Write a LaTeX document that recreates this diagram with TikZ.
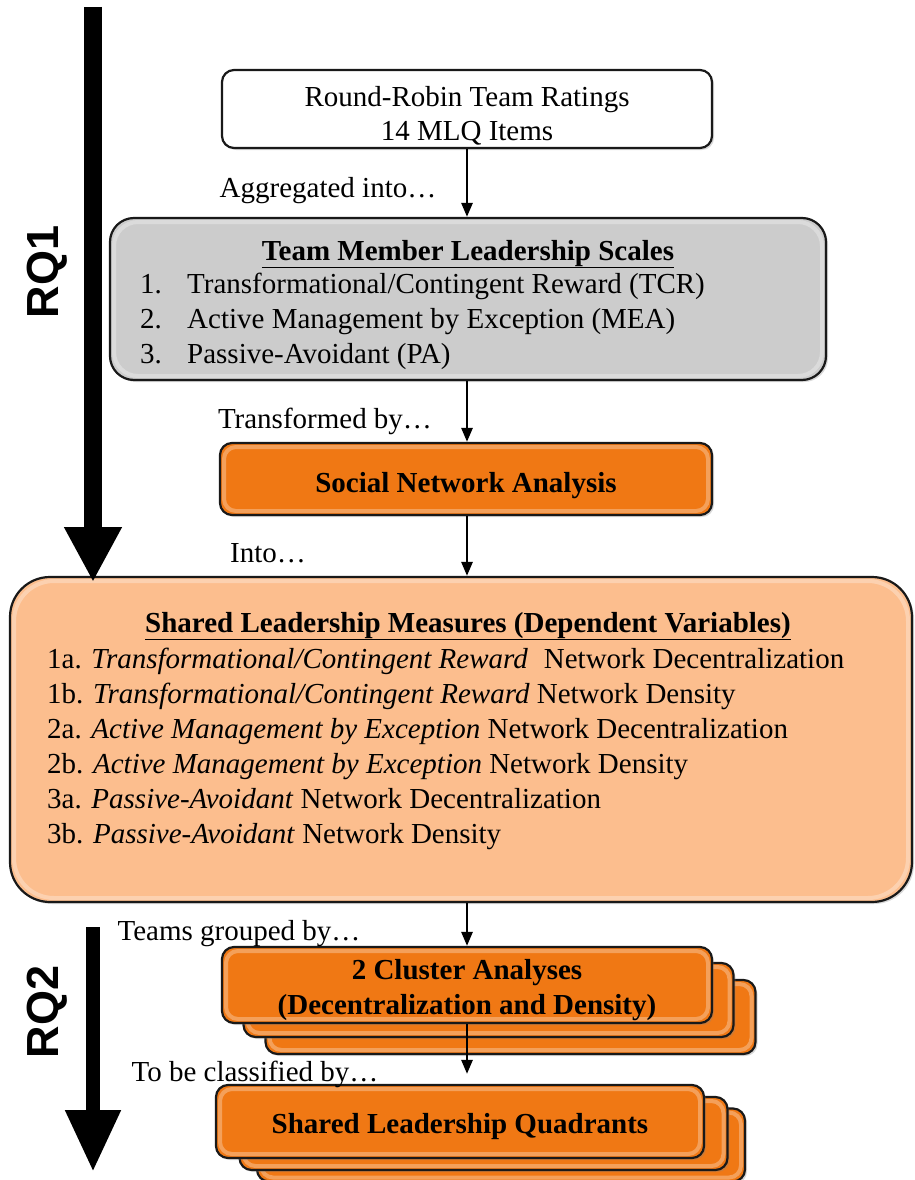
\documentclass[tikz,border=0pt]{standalone}
\usepackage{fontspec}
\setmainfont{Liberation Serif}
\newfontfamily\rqfont{Liberation Sans}
\usetikzlibrary{arrows.meta,shadows}

\definecolor{orangebox}{RGB}{240,120,20}
\definecolor{peachbox}{RGB}{252,190,142}
\definecolor{graybox}{RGB}{204,204,204}
\definecolor{rimdark}{RGB}{25,25,25}

\tikzset{
  panel/.style={draw=rimdark, line width=2.2pt, rounded corners=#1, inner sep=0pt,
    drop shadow={opacity=0.3, shadow xshift=2pt, shadow yshift=-2pt},
    path picture={\draw[white, opacity=0.3, line width=4pt, rounded corners=#1]
      ([shift={(4pt,-4pt)}]path picture bounding box.north west) rectangle
      ([shift={(-4pt,4pt)}]path picture bounding box.south east);}},
  flow/.style={line width=2.6pt, -{Triangle[width=11pt,length=14pt]}},
  rqarrow/.style={line width=#1, -{Triangle[width=54pt,length=55pt]}},
  txt/.style={font=\fontsize{29}{35}\selectfont, inner sep=0pt},
  btxt/.style={font=\fontsize{29}{35}\selectfont\bfseries, inner sep=0pt},
  line/.style={txt, anchor=base west},
  rqtxt/.style={font=\rqfont\bfseries\fontsize{45}{45}\selectfont, inner sep=0pt, rotate=90},
}

\begin{document}
\begin{tikzpicture}[x=1pt, y=-1pt]
\useasboundingbox (0,0) rectangle (914,1180);

% ---- boxes ----
\node[panel=12pt, fill=white, minimum width=490pt, minimum height=78pt] (ratings) at (467,109) {};
\node[panel=24pt, fill=graybox, minimum width=716pt, minimum height=162pt] (scales) at (468,299) {};
\node[panel=12pt, fill=orangebox, minimum width=492pt, minimum height=72pt] (sna) at (466,479) {};
\node[panel=40pt, fill=peachbox, minimum width=902pt, minimum height=325pt] (measures) at (461,739.5) {};

% stacked cluster boxes
\node[panel=12pt, fill=orangebox, minimum width=490pt, minimum height=74pt] (clusterC) at (510.5,1017) {};
\node[panel=12pt, fill=orangebox, minimum width=490pt, minimum height=74pt] (clusterB) at (488.5,1000) {};
\node[panel=12pt, fill=orangebox, minimum width=490pt, minimum height=76pt] (cluster) at (467,985) {};

% stacked quadrant boxes
\node[panel=12pt, fill=orangebox, minimum width=488pt, minimum height=73pt] (quadC) at (501,1145) {};
\node[panel=12pt, fill=orangebox, minimum width=488pt, minimum height=73pt] (quadB) at (483.5,1133.5) {};
\node[panel=12pt, fill=orangebox, minimum width=488pt, minimum height=73pt] (quad) at (460,1121.5) {};

% ---- box texts ----
\node[txt, anchor=base] (ratingsT1) at (467,107) {Round-Robin Team Ratings};
\node[txt, anchor=base] (ratingsT2) at (467,140) {14 MLQ Items};

\node[btxt, anchor=base] (scalesT) at (468,260) {\underline{Team Member Leadership Scales}};
\node[line] (n1) at (140,293) {1.};
\node[line] (s1) at (187,293) {Transformational/Contingent Reward (TCR)};
\node[line] (n2) at (140,328) {2.};
\node[line] (s2) at (187,328) {Active Management by Exception (MEA)};
\node[line] (n3) at (140,363) {3.};
\node[line] (s3) at (187,363) {Passive-Avoidant (PA)};

\node[btxt, anchor=base] (snaT) at (466,492) {Social Network Analysis};

\node[btxt, anchor=base] (measT) at (468,632) {\underline{Shared Leadership Measures (Dependent Variables)}};
\node[line] (m1) at (47,668) {1a. \textit{Transformational/Contingent Reward}\hspace{0.3em} Network Decentralization};
\node[line] (m2) at (47,703) {1b. \textit{Transformational/Contingent Reward} Network Density};
\node[line] (m3) at (47,738) {2a. \textit{Active Management by Exception} Network Decentralization};
\node[line] (m4) at (47,773) {2b. \textit{Active Management by Exception} Network Density};
\node[line] (m5) at (47,808) {3a. \textit{Passive-Avoidant} Network Decentralization};
\node[line] (m6) at (47,843) {3b. \textit{Passive-Avoidant} Network Density};

\node[btxt, anchor=base] (clusterT1) at (467,979) {2 Cluster Analyses};
\node[btxt, anchor=base] (clusterT2) at (467,1014) {(Decentralization and Density)};
\node[btxt, anchor=base] (quadT) at (460,1133) {Shared Leadership Quadrants};

% ---- connector labels ----
\node[txt, anchor=base] (l1) at (328,197) {Aggregated into…};
\node[txt, anchor=base] (l2) at (325,428) {Transformed by…};
\node[txt, anchor=base] (l3) at (268,562) {Into…};
\node[txt, anchor=base] (l4) at (239,940) {Teams grouped by…};
\node[txt, anchor=base] (l5) at (255,1081) {To be classified by…};

% ---- connectors ----
\draw[flow] (ratings.south) -- (ratings.south |- scales.north);
\draw[flow] (ratings.south |- scales.south) -- (ratings.south |- sna.north);
\draw[flow] (ratings.south |- sna.south) -- (ratings.south |- measures.north);
\draw[flow] (ratings.south |- measures.south) -- (ratings.south |- cluster.north);
\draw[flow, shorten >=10pt] (ratings.south |- cluster.south) -- (ratings.south |- quad.north);

% ---- research question arrows ----
\coordinate (rq1start) at (93,7);
\coordinate (rq1end) at (93,582);
\coordinate (rq2start) at (93,927);
\coordinate (rq2end) at (93,1172);
\draw[rqarrow=18pt] (rq1start) -- (rq1end);
\draw[line width=14pt, -{Triangle[width=52pt,length=62pt]}] (rq2start) -- (rq2end);
\node[rqtxt] (rq1) at (47,272) {RQ1};
\node[rqtxt] (rq2) at (47,1012) {RQ2};
\end{tikzpicture}
\end{document}
